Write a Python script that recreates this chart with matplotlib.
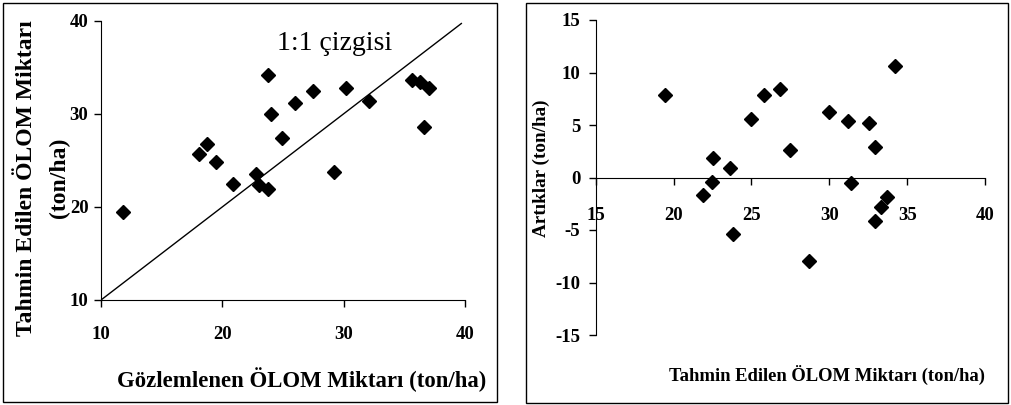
import matplotlib.pyplot as plt
from matplotlib.patches import Rectangle

plt.rcParams['font.family'] = ['Liberation Serif', 'DejaVu Serif']
plt.rcParams['axes.unicode_minus'] = False

# observed vs predicted
observed = [11.8, 18.1, 18.7, 19.5, 20.9, 22.8, 23.0, 23.8, 23.8, 24.0,
            24.9, 26.0, 27.5, 29.2, 30.2, 32.1, 35.6, 36.3, 37.0, 36.6]
predicted = [19.4, 25.7, 26.8, 24.8, 22.5, 23.5, 22.4, 21.9, 34.2, 30.0,
             27.4, 31.2, 32.5, 23.7, 32.8, 31.4, 33.6, 33.4, 32.8, 28.6]

# residuals vs predicted
res_x = [19.45, 21.9, 22.45, 22.55, 23.6, 23.8, 24.95, 25.8, 26.85, 27.45,
         28.7, 30.0, 31.2, 31.4, 32.55, 32.95, 32.95, 33.35, 33.7, 34.2]
res_y = [7.9, -1.7, -0.4, 1.85, 0.95, -5.4, 5.6, 7.9, 8.4, 2.65,
         -7.95, 6.25, 5.4, -0.55, 5.15, 2.9, -4.15, -2.85, -1.9, 10.6]

W, H = 1011, 405
fig = plt.figure(figsize=(W / 100, H / 100), dpi=100)

def frac(x0, y0, x1, y1):
    return [x0 / W, 1 - y1 / H, (x1 - x0) / W, (y1 - y0) / H]

# panel borders
for x0, y0, x1, y1 in [(3, 3, 497, 402), (526, 3, 1008, 403)]:
    fig.patches.append(Rectangle((x0 / W, 1 - y1 / H), (x1 - x0) / W, (y1 - y0) / H,
                                 transform=fig.transFigure, fill=False,
                                 edgecolor='black', linewidth=1))

TICK_FS = 13.5

# left panel
ax1 = fig.add_axes(frac(101, 20.7, 465, 300))
ax1.plot(observed, predicted, 'D', color='black', markersize=7)
ax1.plot([10, 39.7], [10, 39.7], color='black', linewidth=1)
ax1.set_xlim(10, 40)
ax1.set_ylim(10, 40)
ax1.set_xticks([10, 20, 30, 40])
ax1.set_yticks([10, 20, 30, 40])
for s in ['top', 'right']:
    ax1.spines[s].set_visible(False)
ax1.tick_params(direction='out', length=5, width=1)
ax1.tick_params(axis='x', pad=14)
ax1.tick_params(axis='y', pad=4)
for lab in ax1.get_xticklabels() + ax1.get_yticklabels():
    lab.set_fontsize(TICK_FS)
    lab.set_fontweight('bold')
ax1.text(24.5, 37.6, '1:1 çizgisi', fontsize=20, ha='left', va='center')
fig.text(302 / W, 1 - 380 / H, 'Gözlemlenen ÖLOM Miktarı (ton/ha)',
         fontsize=16.4, fontweight='bold', ha='center', va='center')
fig.text(27 / W, 1 - 178 / H, 'Tahmin Edilen ÖLOM Miktarı',
         fontsize=17, fontweight='bold', ha='center', va='center', rotation=90)
fig.text(59 / W, 1 - 178 / H, '(ton/ha)',
         fontsize=17, fontweight='bold', ha='center', va='center', rotation=90)

# right panel
ax2 = fig.add_axes(frac(595.7, 20, 985, 335))
ax2.plot(res_x, res_y, 'D', color='black', markersize=7)
ax2.set_xlim(15, 40)
ax2.set_ylim(-15, 15)
ax2.set_xticks([15, 20, 25, 30, 35, 40])
ax2.set_yticks([-15, -10, -5, 0, 5, 10, 15])
ax2.spines['bottom'].set_position(('data', 0))
for s in ['top', 'right']:
    ax2.spines[s].set_visible(False)
ax2.tick_params(direction='out', length=5, width=1)
ax2.tick_params(axis='x', pad=16)
ax2.tick_params(axis='y', pad=6)
for lab in ax2.get_xticklabels() + ax2.get_yticklabels():
    lab.set_fontsize(TICK_FS)
    lab.set_fontweight('bold')
fig.text(827 / W, 1 - 375 / H, 'Tahmin Edilen ÖLOM Miktarı (ton/ha)',
         fontsize=13.4, fontweight='bold', ha='center', va='center')
fig.text(541 / W, 1 - 168 / H, 'Artıklar (ton/ha)',
         fontsize=13.8, fontweight='bold', ha='center', va='center', rotation=90)

fig.savefig('out.png', dpi=100)
